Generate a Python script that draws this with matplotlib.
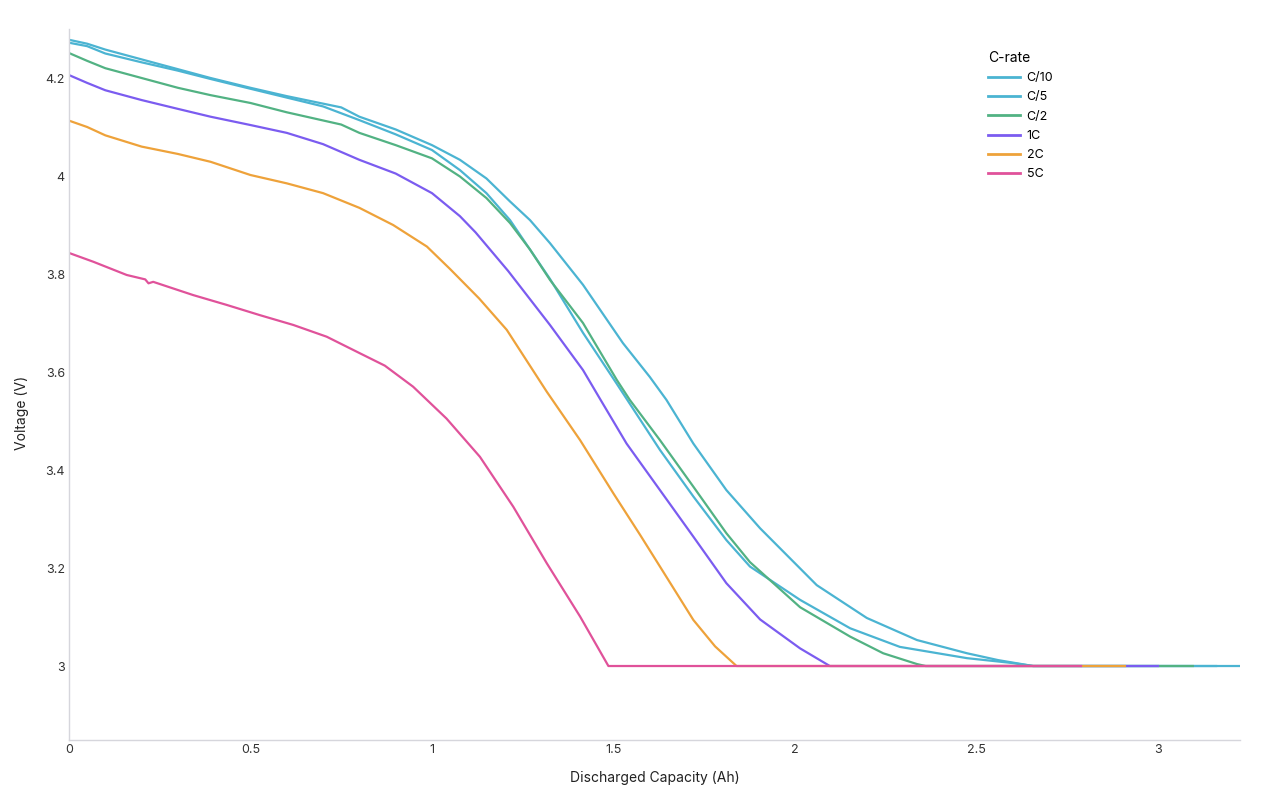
import matplotlib.pyplot as plt

plt.rcParams['font.family'] = ['Inter', 'DejaVu Sans']

# discharge curves (capacity in Ah, voltage in V)
c10_x = [0, 0.05, 0.1, 0.2, 0.3, 0.39, 0.5, 0.6, 0.75, 0.8, 0.9, 1.0, 1.077, 1.15, 1.215, 1.27,
         1.325, 1.416, 1.526, 1.6, 1.646, 1.72, 1.811, 1.904, 2.06, 2.198, 2.336, 2.474, 2.56, 2.656, 3.226]
c10_v = [4.278, 4.27, 4.258, 4.238, 4.218, 4.2, 4.18, 4.163, 4.14, 4.121, 4.095, 4.063, 4.033, 3.995, 3.948, 3.91,
         3.863, 3.778, 3.659, 3.59, 3.543, 3.454, 3.359, 3.281, 3.165, 3.098, 3.053, 3.026, 3.012, 3.0, 3.0]

c5_x = [0, 0.05, 0.1, 0.2, 0.3, 0.39, 0.5, 0.6, 0.7, 0.8, 0.9, 1.0, 1.077, 1.15, 1.215, 1.27,
        1.325, 1.416, 1.509, 1.628, 1.72, 1.811, 1.876, 2.014, 2.152, 2.289, 2.474, 2.6, 2.656, 3.16]
c5_v = [4.272, 4.265, 4.25, 4.232, 4.215, 4.198, 4.178, 4.16, 4.142, 4.114, 4.085, 4.053, 4.012, 3.965, 3.91, 3.85,
        3.79, 3.68, 3.576, 3.441, 3.346, 3.257, 3.203, 3.135, 3.077, 3.039, 3.016, 3.006, 3.0, 3.0]

c2_x = [0, 0.05, 0.1, 0.2, 0.3, 0.39, 0.5, 0.6, 0.75, 0.8, 0.9, 1.0, 1.077, 1.15, 1.215, 1.27,
        1.325, 1.416, 1.509, 1.545, 1.628, 1.72, 1.811, 1.876, 2.014, 2.152, 2.243, 2.336, 2.36, 3.096]
c2_v = [4.251, 4.235, 4.22, 4.2, 4.18, 4.165, 4.149, 4.13, 4.105, 4.088, 4.063, 4.036, 3.999, 3.955, 3.904, 3.85,
        3.788, 3.70, 3.584, 3.543, 3.461, 3.366, 3.271, 3.212, 3.12, 3.06, 3.026, 3.004, 3.0, 3.0]

r1_x = [0, 0.05, 0.1, 0.2, 0.3, 0.39, 0.5, 0.6, 0.7, 0.8, 0.9, 1.0, 1.077, 1.12, 1.169, 1.21,
        1.325, 1.416, 1.463, 1.536, 1.628, 1.72, 1.811, 1.904, 2.014, 2.096, 3.0]
r1_v = [4.206, 4.19, 4.175, 4.155, 4.137, 4.121, 4.104, 4.088, 4.065, 4.033, 4.005, 3.965, 3.918, 3.885, 3.842, 3.806,
        3.696, 3.604, 3.545, 3.454, 3.359, 3.264, 3.169, 3.095, 3.036, 3.0, 3.0]

r2_x = [0, 0.05, 0.1, 0.2, 0.3, 0.39, 0.5, 0.6, 0.7, 0.8, 0.893, 0.986, 1.05, 1.13, 1.206,
        1.316, 1.408, 1.5, 1.573, 1.628, 1.72, 1.78, 1.839, 2.909]
r2_v = [4.113, 4.1, 4.083, 4.06, 4.045, 4.029, 4.002, 3.985, 3.965, 3.935, 3.90, 3.856, 3.81, 3.75, 3.686,
        3.56, 3.461, 3.352, 3.268, 3.203, 3.094, 3.04, 3.0, 3.0]

r5_x = [0, 0.067, 0.159, 0.21, 0.219, 0.232, 0.342, 0.434, 0.526, 0.618, 0.71, 0.802, 0.87, 0.948,
        1.04, 1.132, 1.224, 1.316, 1.408, 1.486, 2.788]
r5_v = [3.843, 3.825, 3.798, 3.789, 3.781, 3.784, 3.757, 3.737, 3.716, 3.696, 3.672, 3.638, 3.613, 3.57,
        3.505, 3.427, 3.325, 3.21, 3.101, 3.0, 3.0]

labels = ['C/10', 'C/5', 'C/2', '1C', '2C', '5C']
colors = ['#4bb4d2', '#4bb4d2', '#52b283', '#7b5cf0', '#eea23a', '#e0529a']
series = [(c10_x, c10_v), (c5_x, c5_v), (c2_x, c2_v), (r1_x, r1_v), (r2_x, r2_v), (r5_x, r5_v)]

fig = plt.figure(figsize=(12.8, 8), dpi=100)
ax = fig.add_axes([69 / 1280, 60 / 800, 1171 / 1280, 711 / 800])

for (x, v), lab, col in zip(series, labels, colors):
    ax.plot(x, v, color=col, lw=1.6, label=lab, solid_joinstyle='round')

ax.set_xlim(0, 3.226)
ax.set_ylim(2.849, 4.3)
ax.set_xticks([0, 0.5, 1, 1.5, 2, 2.5, 3])
ax.set_xticklabels(['0', '0.5', '1', '1.5', '2', '2.5', '3'])
ax.set_yticks([3, 3.2, 3.4, 3.6, 3.8, 4, 4.2])
ax.set_yticklabels(['3', '3.2', '3.4', '3.6', '3.8', '4', '4.2'])
ax.tick_params(length=0, labelsize=9, colors='#333333', pad=3)

for s in ['top', 'right']:
    ax.spines[s].set_visible(False)
for s in ['left', 'bottom']:
    ax.spines[s].set_color('#d6d6dc')
    ax.spines[s].set_linewidth(1)

ax.set_xlabel('Discharged Capacity (Ah)', fontsize=10, color='#222222')
ax.set_ylabel('Voltage (V)', fontsize=10, color='#222222')
ax.xaxis.set_label_coords(0.5, -0.044)
ax.yaxis.set_label_coords(-0.034, 0.46)

leg = ax.legend(title='C-rate', loc='upper left', bbox_to_anchor=(0.775, 0.985), frameon=False,
                fontsize=9, title_fontsize=10, handlelength=2.6, handletextpad=0.5,
                labelspacing=0.58, alignment='left')
for line in leg.get_lines():
    line.set_linewidth(2)

fig.savefig('out.png', dpi=100)
